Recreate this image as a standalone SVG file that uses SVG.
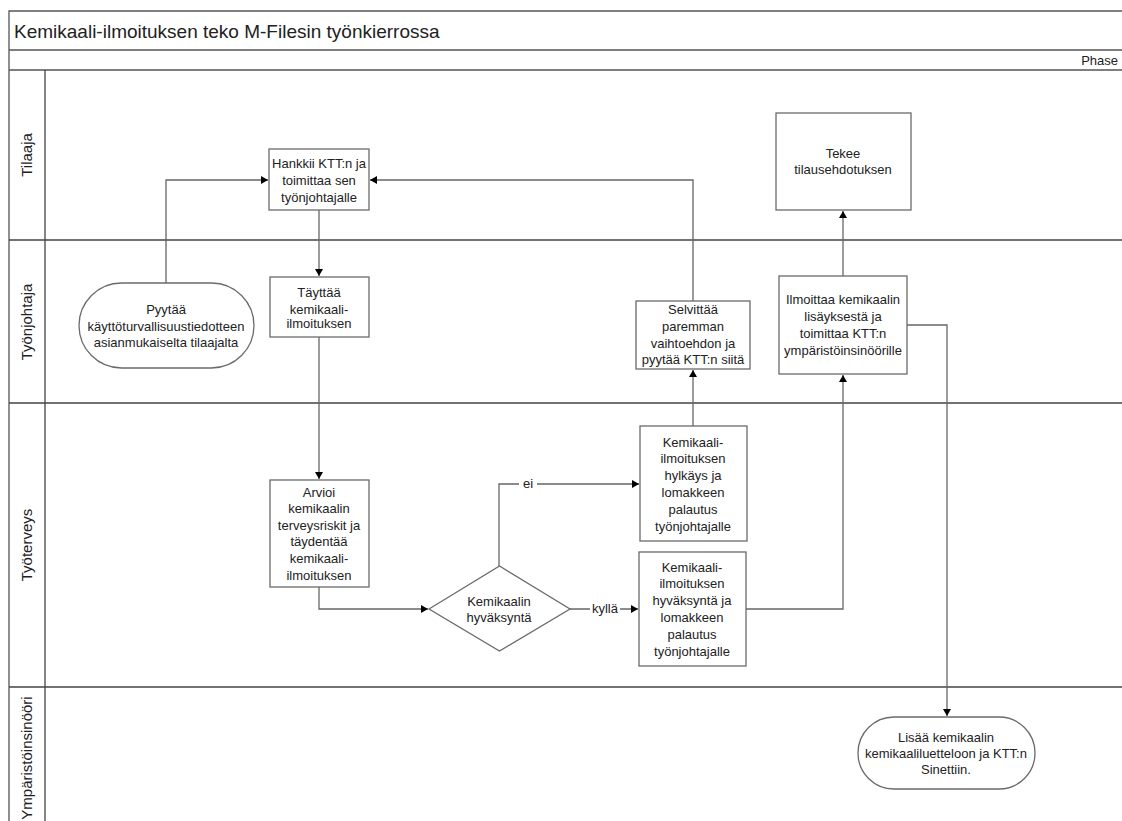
<svg xmlns="http://www.w3.org/2000/svg" width="1122" height="821" viewBox="0 0 1122 821">
<defs>
<marker id="ah" markerWidth="8" markerHeight="8" refX="7" refY="4" orient="auto" markerUnits="userSpaceOnUse">
<path d="M0,0 L7,4 L0,8 Z" fill="#000"/>
</marker>
</defs>
<style>
.frame{stroke:#555;stroke-width:1.3;fill:none}
.lane{stroke:#444;stroke-width:1.3;fill:none}
.box{fill:#fff;stroke:#6a6a6a;stroke-width:1.3}
.conn{fill:none;stroke:#666;stroke-width:1.3;marker-end:url(#ah)}
text{font-family:"Liberation Sans",Arial,sans-serif;fill:#222}
.t{font-size:13px;text-anchor:middle}
.lbl{font-size:15px;text-anchor:middle}
.title{font-size:19px}
</style>
<rect width="1122" height="821" fill="#fff"/>
<g id="pool">
<path class="frame" d="M1122,11 H9 V821"/>
<path class="frame" d="M9,50 H1122 M9,70 H1122"/>
<path class="lane" d="M45,70 V821 M9,240 H1122 M9,403 H1122 M9,687 H1122"/>
<text class="title" x="14" y="38">Kemikaali-ilmoituksen teko M-Filesin työnkierrossa</text>
<text x="1118" y="65" style="font-size:13px;text-anchor:end">Phase</text>
<text class="lbl" transform="translate(32,155) rotate(-90)">Tilaaja</text>
<text class="lbl" transform="translate(32,322) rotate(-90)">Työnjohtaja</text>
<text class="lbl" transform="translate(32,545) rotate(-90)">Työterveys</text>
<text class="lbl" transform="translate(32,758) rotate(-90)">Ympäristöinsinööri</text>
</g>
<g id="connectors">
<path class="conn" d="M166,283 V180 H268"/>
<path class="conn" d="M319,210 V276"/>
<path class="conn" d="M319,337 V479"/>
<path class="conn" d="M319,587 V609 H428"/>
<path class="conn" d="M499,566 V484 H639"/>
<path class="conn" d="M570,609 H638"/>
<path class="conn" d="M693,426 V370"/>
<path class="conn" d="M693,301 V180 H370"/>
<path class="conn" d="M746,609 H843 V375"/>
<path class="conn" d="M843,276 V211"/>
<path class="conn" d="M907,325 H947 V716"/>
<rect x="519" y="477" width="18" height="14" fill="#fff"/>
<text class="t" x="528" y="488">ei</text>
<rect x="590" y="602" width="30" height="14" fill="#fff"/>
<text class="t" x="605" y="613">kyllä</text>
</g>
<g id="n_pyytaa">
<rect class="box" x="79" y="283" width="175" height="85" rx="42.5"/>
<text class="t" x="166" y="314">Pyytää</text>
<text class="t" x="166" y="331">käyttöturvallisuustiedotteen</text>
<text class="t" x="166" y="347">asianmukaiselta tilaajalta</text>
</g>
<g id="n_hankkii">
<rect class="box" x="269" y="149" width="100" height="61"/>
<text class="t" x="319" y="168">Hankkii KTT:n ja</text>
<text class="t" x="319" y="185">toimittaa sen</text>
<text class="t" x="319" y="202">työnjohtajalle</text>
</g>
<g id="n_tayttaa">
<rect class="box" x="270" y="277" width="99" height="60"/>
<text class="t" x="319" y="297">Täyttää</text>
<text class="t" x="319" y="314">kemikaali-</text>
<text class="t" x="319" y="328">ilmoituksen</text>
</g>
<g id="n_arvioi">
<rect class="box" x="270" y="480" width="99" height="107"/>
<text class="t" x="319" y="497">Arvioi</text>
<text class="t" x="319" y="513">kemikaalin</text>
<text class="t" x="319" y="530">terveysriskit ja</text>
<text class="t" x="319" y="546">täydentää</text>
<text class="t" x="319" y="563">kemikaali-</text>
<text class="t" x="319" y="580">ilmoituksen</text>
</g>
<g id="n_diamond">
<path class="box" d="M429,609 L499.5,566 L570,609 L499.5,651 Z"/>
<text class="t" x="499" y="606">Kemikaalin</text>
<text class="t" x="499" y="622">hyväksyntä</text>
</g>
<g id="n_hylkays">
<rect class="box" x="640" y="426" width="107" height="115"/>
<text class="t" x="693" y="447">Kemikaali-</text>
<text class="t" x="693" y="463">ilmoituksen</text>
<text class="t" x="693" y="480">hylkäys ja</text>
<text class="t" x="693" y="497">lomakkeen</text>
<text class="t" x="693" y="514">palautus</text>
<text class="t" x="693" y="531">työnjohtajalle</text>
</g>
<g id="n_hyvaksynta">
<rect class="box" x="639" y="552" width="107" height="114"/>
<text class="t" x="692" y="572">Kemikaali-</text>
<text class="t" x="692" y="588">ilmoituksen</text>
<text class="t" x="692" y="605">hyväksyntä ja</text>
<text class="t" x="692" y="622">lomakkeen</text>
<text class="t" x="692" y="639">palautus</text>
<text class="t" x="692" y="656">työnjohtajalle</text>
</g>
<g id="n_selvittaa">
<rect class="box" x="636" y="301" width="114" height="68"/>
<text class="t" x="693" y="314">Selvittää</text>
<text class="t" x="693" y="331">paremman</text>
<text class="t" x="693" y="348">vaihtoehdon ja</text>
<text class="t" x="693" y="364">pyytää KTT:n siitä</text>
</g>
<g id="n_tekee">
<rect class="box" x="776" y="113" width="135" height="97"/>
<text class="t" x="843" y="158">Tekee</text>
<text class="t" x="843" y="174">tilausehdotuksen</text>
</g>
<g id="n_ilmoittaa">
<rect class="box" x="779" y="276" width="128" height="98"/>
<text class="t" x="843" y="304">Ilmoittaa kemikaalin</text>
<text class="t" x="843" y="321">lisäyksestä ja</text>
<text class="t" x="843" y="338">toimittaa KTT:n</text>
<text class="t" x="843" y="355">ympäristöinsinöörille</text>
</g>
<g id="n_lisaa">
<rect class="box" x="858" y="717" width="177" height="72" rx="36"/>
<text class="t" x="946" y="742">Lisää kemikaalin</text>
<text class="t" x="946" y="758">kemikaaliluetteloon ja KTT:n</text>
<text class="t" x="946" y="774">Sinettiin.</text>
</g>
</svg>
